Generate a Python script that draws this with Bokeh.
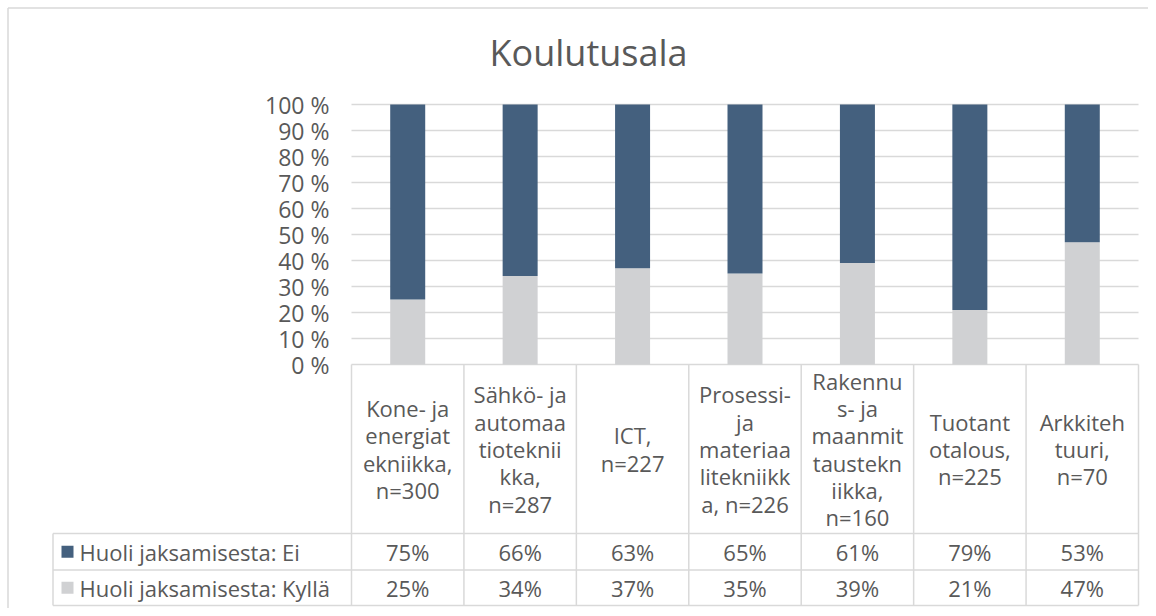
from bokeh.plotting import figure
from bokeh.models import ColumnDataSource, Range1d
from bokeh.core.properties import value
from bokeh.embed import file_html
from bokeh.resources import INLINE

# ---- data ----
title_text = "Koulutusala"
categories = [
    "Kone- ja\nenergiat\nekniikka,\nn=300",
    "Sähkö- ja\nautomaa\ntioteknii\nkka,\nn=287",
    "ICT,\nn=227",
    "Prosessi-\nja\nmateriaa\nlitekniikk\na, n=226",
    "Rakennu\ns- ja\nmaanmit\ntaustekn\niikka,\nn=160",
    "Tuotant\notalous,\nn=225",
    "Arkkiteh\ntuuri,\nn=70",
]
series_names = ["Huoli jaksamisesta: Ei", "Huoli jaksamisesta: Kyllä"]
ei = [75, 66, 63, 65, 61, 79, 53]
kylla = [25, 34, 37, 35, 39, 21, 47]
tick_values = [0, 10, 20, 30, 40, 50, 60, 70, 80, 90, 100]
tick_labels = ["0 %", "10 %", "20 %", "30 %", "40 %", "50 %", "60 %", "70 %", "80 %", "90 %", "100 %"]

# ---- style ----
BLUE = "#44607E"
GRAY = "#D0D1D3"
GRID = "#D9D9D9"
TXT = "#595959"
FONT = value("Open Sans")

W, H = 1148, 608
ORG = 0  # image pixel where the figure starts
PX0, PXW = 351.0, (1138.0 - 351.0) / 7.0   # x: category unit width
PY0, PYH = 364.0, (364.0 - 104.0) / 100.0  # y: pixels per percent
def dx(px):
    return (px - PX0) / PXW
def dy(py):
    return (PY0 - py) / PYH

p = figure(width=W, height=H, output_backend="svg", toolbar_location=None,
           x_range=Range1d(dx(ORG), dx(ORG + W)), y_range=Range1d(dy(ORG + H), dy(ORG)),
           min_border=0, outline_line_color=None,
           background_fill_color="white", border_fill_color="white")
p.xaxis.visible = False
p.yaxis.visible = False
p.xgrid.visible = False
p.ygrid.visible = False

n = len(categories)
xs = [i + 0.5 for i in range(n)]

# outer chart border (top and left visible)
p.segment(x0=[dx(7.5), dx(7.5)], y0=[dy(7.5), dy(7.5)],
          x1=[dx(ORG + W), dx(7.5)], y1=[dy(7.5), dy(ORG + H)],
          line_color=GRID, line_width=1.5)

# gridlines
p.segment(x0=[0] * len(tick_values), x1=[n] * len(tick_values),
          y0=tick_values, y1=tick_values, line_color=GRID, line_width=1.5)

# bars
src = ColumnDataSource(dict(x=xs, ei=ei, kylla=kylla))
p.vbar_stack(["kylla", "ei"], x="x", width=35.0 / PXW, color=[GRAY, BLUE],
             line_color=None, source=src)

# tick labels
p.text(x=[dx(329)] * len(tick_values), y=tick_values, text=tick_labels,
       text_align="right", text_baseline="middle", text_font=FONT,
       text_font_size="23px", text_color=TXT)

# title
p.text(x=[dx(588)], y=[dy(52)], text=[title_text], text_align="center",
       text_baseline="middle", text_font=FONT, text_font_size="36px", text_color=TXT)

# ---- data table ----
row_top = 0
row_head = dy(533)
row_mid = dy(569.5)
row_bot = dy(605)
x_left = dx(52.5)

p.segment(x0=list(range(n + 1)), x1=list(range(n + 1)),
          y0=[row_top] * (n + 1), y1=[row_bot] * (n + 1),
          line_color=GRID, line_width=1.5)
p.segment(x0=[x_left] * 3, x1=[n] * 3, y0=[row_head, row_mid, row_bot],
          y1=[row_head, row_mid, row_bot], line_color=GRID, line_width=1.5)
p.segment(x0=[x_left], x1=[x_left], y0=[row_head], y1=[row_bot],
          line_color=GRID, line_width=1.5)

p.text(x=xs, y=[(row_top + row_head) / 2.0] * n, text=categories,
       text_align="center", text_baseline="middle", text_font=FONT,
       text_font_size="22px", text_line_height=0.91, text_color=TXT)

y_ei = (row_head + row_mid) / 2.0
y_ky = (row_mid + row_bot) / 2.0
p.text(x=xs, y=[y_ei] * n, text=[f"{v}%" for v in ei], text_align="center",
       text_baseline="middle", text_font=FONT, text_font_size="22px", text_color=TXT)
p.text(x=xs, y=[y_ky] * n, text=[f"{v}%" for v in kylla], text_align="center",
       text_baseline="middle", text_font=FONT, text_font_size="22px", text_color=TXT)

p.scatter(x=[dx(67)] * 2, y=[y_ei, y_ky], marker="square", size=12,
          color=[BLUE, GRAY], line_color=None)
p.text(x=[dx(79)] * 2, y=[y_ei, y_ky], text=series_names, text_align="left",
       text_baseline="middle", text_font=FONT, text_font_size="22px", text_color=TXT)

open("out.html", "w").write(file_html(p, INLINE))
